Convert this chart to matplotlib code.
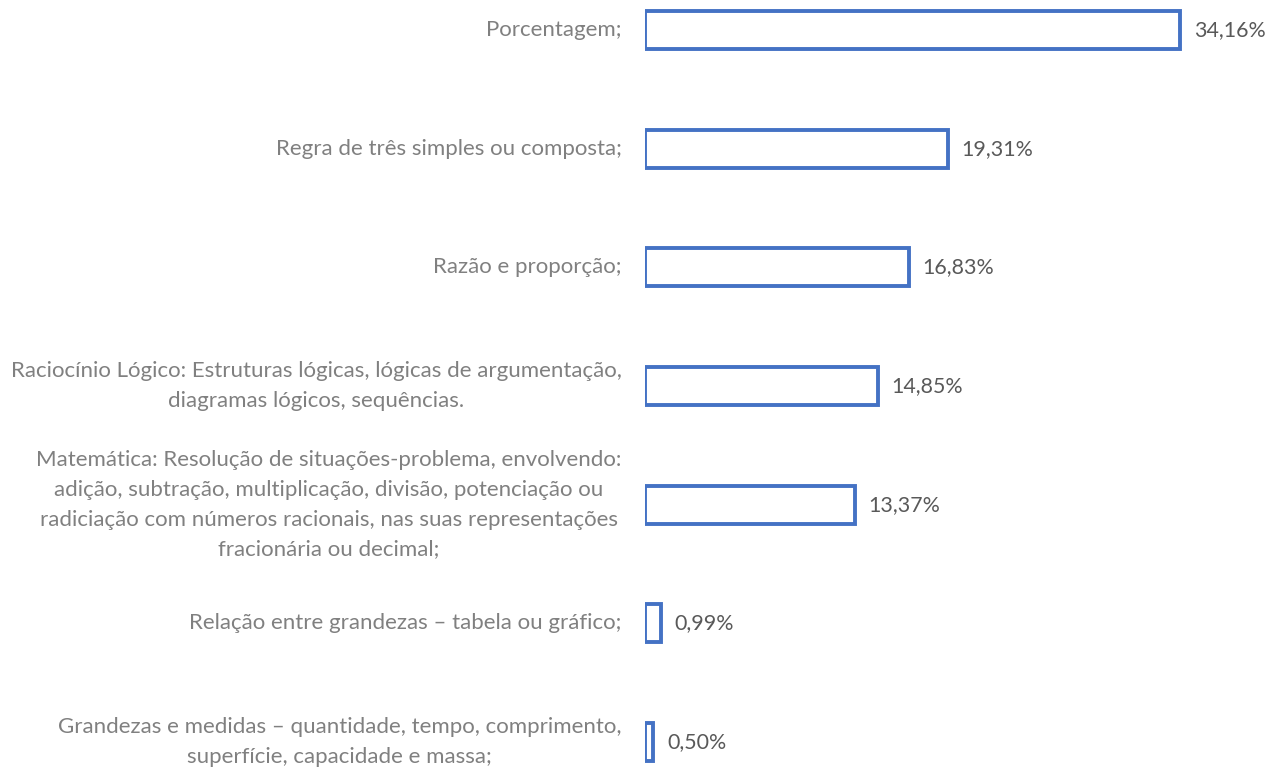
import matplotlib.pyplot as plt

categories = [
    "Porcentagem;",
    "Regra de três simples ou composta;",
    "Razão e proporção;",
    "Raciocínio Lógico: Estruturas lógicas, lógicas de argumentação,\ndiagramas lógicos, sequências.",
    "Matemática: Resolução de situações-problema, envolvendo:\nadição, subtração, multiplicação, divisão, potenciação ou\nradiciação com números racionais, nas suas representações\nfracionária ou decimal;",
    "Relação entre grandezas – tabela ou gráfico;",
    "Grandezas e medidas – quantidade, tempo, comprimento,\nsuperfície, capacidade e massa;",
]
values = [34.16, 19.31, 16.83, 14.85, 13.37, 0.99, 0.50]
value_labels = ["34,16%", "19,31%", "16,83%", "14,85%", "13,37%", "0,99%", "0,50%"]

plt.rcParams['font.family'] = ['Lato', 'DejaVu Sans']

fig = plt.figure(figsize=(12.7, 7.69), dpi=100)
ax = fig.add_axes([0.508, 0.0, 0.492, 1.0])

pos = list(range(len(values)))
ax.barh(pos, values, height=0.32, color='white', edgecolor='#4472C4', linewidth=2.8)

ax.set_xlim(0, 39.9)
ax.set_ylim(6.227, -0.253)
ax.axis('off')

for p, v, lab in zip(pos, values, value_labels):
    ax.annotate(lab, (v, p), xytext=(10, 0), textcoords='offset points',
                ha='left', va='center', fontsize=15.4, color='#595959')

for p, cat in zip(pos, categories):
    ax.annotate(cat, (0, p), xytext=(-17, 0), textcoords='offset points',
                ha='right', va='center', multialignment='center',
                fontsize=16, color='#808080', linespacing=1.6,
                annotation_clip=False)

fig.savefig('out.png', dpi=100)
